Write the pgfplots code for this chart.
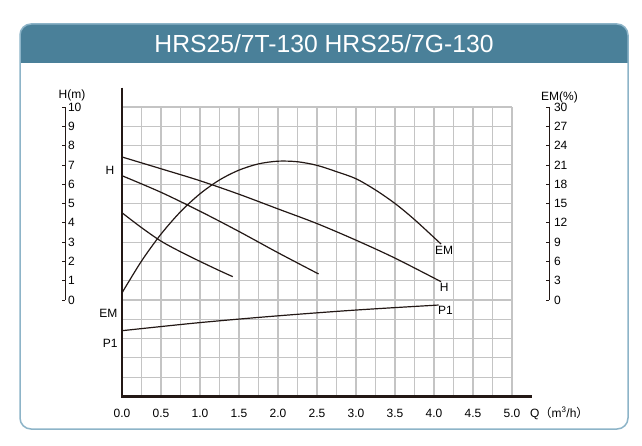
\documentclass[border=0pt]{standalone}
\usepackage{fontspec}
\setmainfont{Liberation Sans}
\newfontfamily\cjk{Noto Sans CJK SC}
\usepackage{pgfplots}
\pgfplotsset{compat=1.18}

\definecolor{barblue}{HTML}{4A8099}
\definecolor{framecol}{HTML}{8DB4C8}
\definecolor{gridcol}{HTML}{C4C4C4}
\definecolor{curve}{HTML}{231815}

\newcommand{\lab}{\fontsize{12}{14}\selectfont}
\pgfplotsset{every axis/.append style={/pgf/number format/assume math mode=true}}

\begin{document}
\begin{tikzpicture}[x=1pt,y=1pt]
\useasboundingbox (0,0) rectangle (642,445);
\fill[white] (0,0) rectangle (642,445);

% title bar and frame
\fill[barblue] (20,382) -- (20,410) arc[start angle=180,end angle=90,radius=11]
  -- (617,421) arc[start angle=90,end angle=0,radius=11] -- (628,382) -- cycle;
\draw[framecol, line width=1.5pt, rounded corners=11pt] (20,16) rectangle (628,421);
\node[white, font=\fontsize{24.7}{28}\selectfont, anchor=base] at (324,392.3)
  {HRS25/7T-130 HRS25/7G-130};

% main grid, H curves and P1
\begin{axis}[
    scale only axis, width=390pt, height=289.5pt,
    at={(122pt,48.5pt)}, anchor=south west,
    xmin=0, xmax=5, ymin=-5, ymax=10,
    xtick={0,0.5,1,1.5,2,2.5,3,3.5,4,4.5,5},
    minor xtick={0.25,0.75,1.25,1.75,2.25,2.75,3.25,3.75,4.25,4.75},
    ytick={-5,-4,...,10}, yticklabels={},
    grid=both,
    major grid style={gridcol, line width=1.1pt},
    minor grid style={gridcol, line width=1.1pt},
    axis line style={draw=none},
    major tick length=0pt, minor tick length=0pt,
    xticklabel style={font=\lab, anchor=base, yshift=-20.8pt,
      /pgf/number format/.cd, fixed, fixed zerofill, precision=1, assume math mode=true},
    clip=false,
]
\addplot[curve, line width=1.2pt, smooth] coordinates {
  (0,7.41)(0.5,6.8)(1.0,6.18)(1.5,5.48)(2.0,4.72)(2.5,3.96)(3.0,3.1)(3.5,2.17)(4.09,0.95)};
\addplot[curve, line width=1.2pt, smooth] coordinates {
  (0,6.44)(0.5,5.58)(1.0,4.6)(1.5,3.55)(2.0,2.45)(2.52,1.35)};
\addplot[curve, line width=1.2pt, smooth] coordinates {
  (0,4.52)(0.25,3.75)(0.5,3.05)(0.75,2.5)(1.0,2.0)(1.25,1.52)(1.42,1.21)};
\addplot[curve, line width=1.2pt, smooth] coordinates {
  (0,-1.59)(1,-1.17)(2,-0.82)(3,-0.52)(4.06,-0.26)};
\draw[curve, line width=2.4pt] (axis cs:0,11) -- (axis cs:0,-5) -- (axis cs:5.25,-5);
\end{axis}

% EM curve on its own scale
\begin{axis}[
    scale only axis, width=390pt, height=289.5pt,
    at={(122pt,48.5pt)}, anchor=south west,
    xmin=0, xmax=5, ymin=-15, ymax=30,
    hide axis, clip=false,
]
\addplot[curve, line width=1.2pt, smooth] coordinates {
  (0,1.1)(0.25,6.05)(0.5,10.24)(0.75,13.72)(1.0,16.51)(1.25,18.66)(1.5,20.19)
  (1.75,21.16)(2.0,21.58)(2.25,21.49)(2.5,20.93)(2.75,19.95)(3.0,18.85)
  (3.25,17.1)(3.5,15.0)(3.75,12.5)(4.09,8.7)};
\end{axis}

% H(m) scale
\begin{axis}[
    scale only axis, width=1pt, height=193pt,
    at={(65pt,145pt)}, anchor=south east,
    xmin=0, xmax=1, ymin=0, ymax=10,
    axis x line=none, axis y line*=right,
    ytick={0,1,...,10}, tick align=inside, major tick length=3pt,
    y axis line style={line width=0.8pt, curve},
    ytick style={line width=0.8pt, curve},
    yticklabel style={font=\lab, xshift=-0.5pt},
]
\end{axis}

% EM(%) scale
\begin{axis}[
    scale only axis, width=1pt, height=193pt,
    at={(549pt,145pt)}, anchor=south east,
    xmin=0, xmax=1, ymin=0, ymax=30,
    axis x line=none, axis y line*=right,
    ytick={0,3,...,30}, tick align=inside, major tick length=3pt,
    y axis line style={line width=0.8pt, curve},
    ytick style={line width=0.8pt, curve},
    yticklabel style={font=\lab, xshift=1.5pt},
]
\end{axis}

% texts
\node[font=\lab] at (72,350) {H(m)};
\node[font=\lab] at (559.5,348) {EM(\%)};
\node[font=\lab] at (110,274.3) {H};
\node[font=\lab, anchor=east] at (121,131.7) {EM};
\node[font=\lab, anchor=east] at (121,101.7) {P1};
\node[font=\lab] at (444,195) {EM};
\node[font=\lab] at (444.3,157.7) {H};
\node[font=\lab] at (445.5,135) {P1};
\node[font=\lab, anchor=base west, inner sep=0pt] at (530,27.7)
  {Q{\cjk （}m\textsuperscript{3}/h{\cjk ）}};
\end{tikzpicture}
\end{document}
